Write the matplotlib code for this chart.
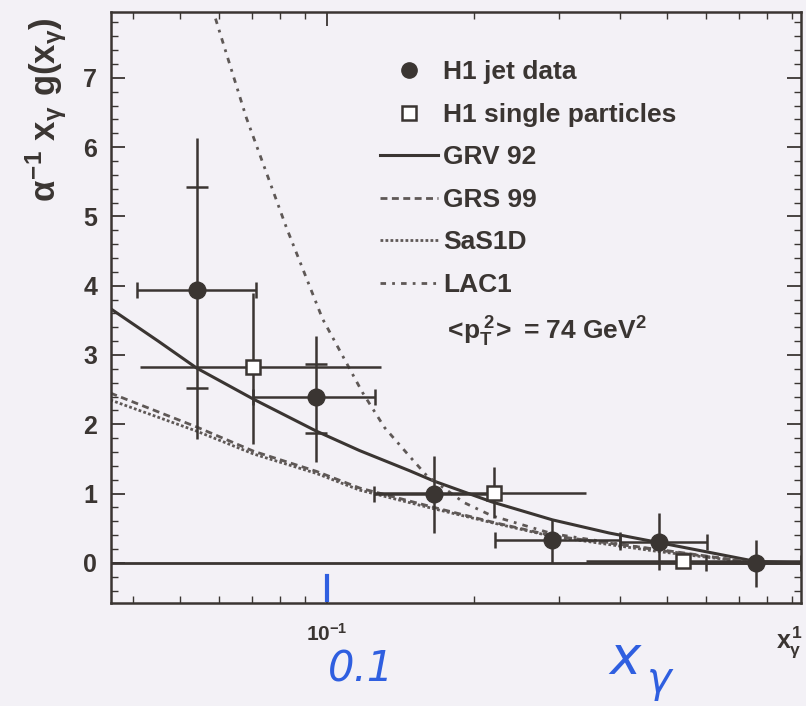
import numpy as np
import matplotlib.pyplot as plt
from matplotlib.lines import Line2D
from matplotlib.ticker import MultipleLocator, LogLocator, NullFormatter

plt.rcParams['font.family'] = ['Liberation Sans', 'DejaVu Sans']
plt.rcParams['font.weight'] = 'bold'
plt.rcParams['mathtext.fontset'] = 'custom'
plt.rcParams['mathtext.rm'] = 'Liberation Sans:bold'
plt.rcParams['mathtext.it'] = 'Liberation Sans:bold'
plt.rcParams['mathtext.bf'] = 'Liberation Sans:bold'

ink = '#3a3532'
grey = '#5e5856'
bg = '#f3f1f6'
blue = '#2f5fe0'

# H1 jet data: centre, bin edges, total and stat errors
jet_x = [0.054, 0.095, 0.166, 0.29, 0.48, 0.76]
jet_y = [3.94, 2.39, 1.00, 0.33, 0.30, 0.0]
jet_xlo = [0.0408, 0.0706, 0.125, 0.221, 0.40, 0.60]
jet_xhi = [0.0716, 0.1257, 0.218, 0.40, 0.604, 0.94]
jet_ylo = [1.78, 1.46, 0.43, 0.0, -0.10, -0.35]
jet_yhi = [6.13, 3.28, 1.54, 0.62, 0.72, 0.33]
jet_stat_lo = [2.52, 1.88, np.nan, np.nan, np.nan, np.nan]
jet_stat_hi = [5.42, 2.87, np.nan, np.nan, np.nan, np.nan]

# H1 single particles
sp_x = [0.0706, 0.220, 0.537]
sp_y = [2.83, 1.01, 0.02]
sp_xlo = [0.0413, 0.125, 0.34]
sp_xhi = [0.129, 0.34, 0.94]
sp_ylo = [1.71, 0.65, -0.05]
sp_yhi = [3.90, 1.38, 0.08]

# parametrisations
grv_x = [0.0359, 0.045, 0.054, 0.0707, 0.0951, 0.1166, 0.1476, 0.1657, 0.2178, 0.2902, 0.3797, 0.4818, 0.60, 0.7587, 0.94]
grv_y = [3.67, 3.20, 2.81, 2.36, 1.90, 1.62, 1.33, 1.18, 0.88, 0.62, 0.43, 0.29, 0.16, 0.02, 0.0]

low_x = [0.0359, 0.054, 0.0707, 0.0951, 0.1166, 0.1657, 0.2178, 0.2902, 0.4818, 0.7587, 0.94]
grs_y = [2.45, 1.96, 1.61, 1.32, 1.08, 0.80, 0.59, 0.39, 0.19, 0.0, 0.0]
sas_y = [2.35, 1.90, 1.57, 1.29, 1.05, 0.78, 0.58, 0.38, 0.16, 0.0, 0.0]

lac_x = [0.0547, 0.0582, 0.0683, 0.0826, 0.0979, 0.1182, 0.1313, 0.1476, 0.1601, 0.191, 0.2178, 0.2902, 0.4818, 0.7587, 0.94]
lac_y = [8.6, 7.99, 6.42, 4.83, 3.52, 2.46, 1.95, 1.54, 1.26, 0.87, 0.68, 0.42, 0.18, 0.0, 0.0]

fig = plt.figure(figsize=(8.06, 7.06), dpi=100)
fig.patch.set_facecolor(bg)
ax = fig.add_axes([0.1377, 0.1459, 0.8561, 0.8371])
ax.set_facecolor(bg)
ax.set_xscale('log')
ax.set_xlim(0.036, 0.94)
ax.set_ylim(-0.58, 7.95)

ax.axhline(0, color=ink, lw=2)

ax.plot(grv_x, grv_y, color=ink, lw=2.2, ls='-')
ax.plot(low_x, grs_y, color=grey, lw=2, ls=(0, (2.5, 1.6)))
ax.plot(low_x, sas_y, color=grey, lw=2, ls=(0, (1, 0.8)))
ax.plot(lac_x, lac_y, color=grey, lw=2, ls=(0, (2, 2.2, 1, 2.2)))

jx = np.array(jet_x)
jy = np.array(jet_y)
ax.errorbar(jx, jy, xerr=[jx - np.array(jet_xlo), np.array(jet_xhi) - jx],
            fmt='none', ecolor=ink, elinewidth=1.8, capsize=6, capthick=1.8)
ax.errorbar(jx, jy, yerr=[jy - np.array(jet_ylo), np.array(jet_yhi) - jy],
            fmt='none', ecolor=ink, elinewidth=1.8, capsize=0)
ax.plot(jx, jet_stat_lo, ls='none', marker='_', ms=16, mew=1.8, color=ink)
ax.plot(jx, jet_stat_hi, ls='none', marker='_', ms=16, mew=1.8, color=ink)
ax.plot(jx, jy, ls='none', marker='o', ms=12, color=ink, zorder=5)

sx = np.array(sp_x)
sy = np.array(sp_y)
ax.errorbar(sx, sy, xerr=[sx - np.array(sp_xlo), np.array(sp_xhi) - sx],
            yerr=[sy - np.array(sp_ylo), np.array(sp_yhi) - sy],
            fmt='none', ecolor=ink, elinewidth=1.8, capsize=0)
ax.plot(sx, sy, ls='none', marker='s', ms=10, mfc='white', mec=ink, mew=1.8, zorder=5)

# ticks on all four sides, pointing inwards
ax.xaxis.set_major_locator(LogLocator(base=10))
ax.xaxis.set_minor_locator(LogLocator(base=10, subs=np.arange(2, 10)))
ax.xaxis.set_minor_formatter(NullFormatter())
ax.yaxis.set_major_locator(MultipleLocator(1))
ax.yaxis.set_minor_locator(MultipleLocator(0.2))
ax.tick_params(which='both', direction='in', top=True, right=True, colors=ink)
ax.tick_params(which='major', length=10, width=1.3)
ax.tick_params(which='minor', length=5, width=1)
ax.tick_params(axis='y', which='major', labelsize=18, pad=10)
ax.tick_params(axis='x', which='major', labelsize=15, pad=14)
for s in ax.spines.values():
    s.set_color(ink)
    s.set_linewidth(1.8)

handles = [
    Line2D([], [], ls='none', marker='o', ms=11, color=ink),
    Line2D([], [], ls='none', marker='s', ms=10, mfc='white', mec=ink, mew=1.8),
    Line2D([], [], color=ink, lw=2.2),
    Line2D([], [], color=grey, lw=2, ls=(0, (2.5, 1.6))),
    Line2D([], [], color=grey, lw=2, ls=(0, (1, 0.8))),
    Line2D([], [], color=grey, lw=2, ls=(0, (2, 2.2, 1, 2.2))),
    Line2D([], [], ls='none'),
]
labels = ['H1 jet data', 'H1 single particles', 'GRV 92', 'GRS 99', 'SaS1D', 'LAC1',
          r'$<\!p_T^{\,2}\!>$ = 74 GeV$^2$']
leg = ax.legend(handles, labels, loc='upper left', bbox_to_anchor=(0.39, 0.918),
                frameon=False, fontsize=19, handlelength=2.2, handletextpad=0.2,
                labelspacing=0.7, borderpad=0, borderaxespad=0)
for t in leg.get_texts():
    t.set_color(ink)

fig.text(0.058, 0.975, r'$\alpha^{-1}\ x_\gamma\ g(x_\gamma)$', rotation=90,
         ha='center', va='top', fontsize=25, color=ink)
fig.text(0.963, 0.065, r'$x_\gamma^1$', ha='left', va='bottom', fontsize=18, color=ink)

# pen notes added on the printout
ax.axvline(0.1, ymin=0.005, ymax=0.045, color=blue, lw=3)
fig.text(0.448, 0.035, '0.1', fontsize=30, style='italic', color=blue,
         family='DejaVu Sans', weight='normal', ha='center')
fig.text(0.775, 0.045, 'x', fontsize=38, style='italic', color=blue,
         family='DejaVu Sans', weight='normal', ha='center')
fig.text(0.818, 0.02, 'γ', fontsize=30, style='italic', color=blue,
         family='DejaVu Sans', weight='normal', ha='center')

fig.savefig('out.png', dpi=100, facecolor=bg)
